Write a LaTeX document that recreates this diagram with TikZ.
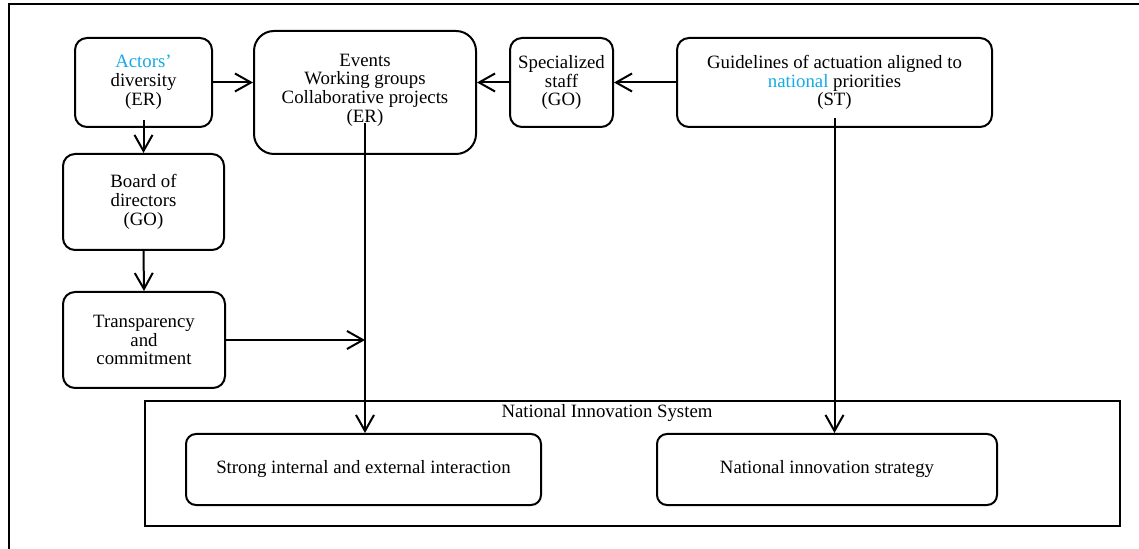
\documentclass[tikz,border=0pt]{standalone}
\usepackage{fontspec}
\setmainfont{Liberation Serif}
\usepackage{tikz}
\usetikzlibrary{arrows.meta}
\definecolor{actorblue}{RGB}{20,170,230}

\begin{document}
\begin{tikzpicture}[x=0.5pt,y=-0.5pt,
    font=\fontsize{9.4}{9.4}\selectfont,
    box/.style={draw, line width=1pt, rounded corners=6pt, align=center, inner sep=0pt},
    link/.style={line width=1pt, -{Straight Barb[length=8pt,width=9pt]}}]
  \useasboundingbox (0,0) rectangle (1139,549);
  \draw[line width=1.3pt] (9,549) |- (1139,4);

  % upper row
  \node[box, minimum width=68.5pt, minimum height=44.5pt] (ac) at (143.5,82.5)
    {\color{actorblue}Actors'\\diversity\\(ER)};
  \node[box, rounded corners=10pt, minimum width=111pt, minimum height=61.5pt] (ev) at (365,92.5)
    {Events\\Working groups\\Collaborative projects\\(ER)\\[-5pt]};
  \node[box, minimum width=51.5pt, minimum height=44.5pt] (sp) at (561.5,82.5)
    {Specialized\\staff\\(GO)};
  \node[box, minimum width=157.5pt, minimum height=44.5pt] (gl) at (834.5,82.5)
    {Guidelines of actuation aligned to\\{\color{actorblue}national} priorities\\(ST)};

  % left column
  \node[box, minimum width=80.5pt, minimum height=48pt] (bd) at (143.5,202)
    {Board of\\directors\\(GO)};
  \node[box, minimum width=81pt, minimum height=48pt] (tr) at (144,340)
    {Transparency\\and\\commitment};

  % national innovation system
  \node[draw, line width=1pt, minimum width=487.5pt, minimum height=62.5pt] (nis) at (632.5,463.5) {};
  \node (nislabel) at (607,413) {National Innovation System};
  \node[box, rounded corners=5pt, minimum width=177.5pt, minimum height=35.5pt] (st) at (363.5,469.5)
    {Strong internal and external interaction};
  \node[box, rounded corners=5pt, minimum width=170pt, minimum height=35.5pt] (ni) at (827,469.5)
    {National innovation strategy};

  \draw[link] (ac.east) -- (ac.east -| ev.west);
  \draw[link] (sp.west) -- (sp.west -| ev.east);
  \draw[link] (gl.west) -- (gl.west -| sp.east);
  \draw[link] ([yshift=4pt]ac.south) -- (bd.north);
  \draw[link] (bd.south) -- (tr.north);
  \draw[link] ([yshift=-15.5pt]ev.center) -- (ev.center |- st.north);
  \draw[link] ([yshift=-18pt]gl.center) -- (gl.center |- ni.north);
  \draw[link] (tr.east) -- (tr.east -| ev.center);
\end{tikzpicture}
\end{document}
